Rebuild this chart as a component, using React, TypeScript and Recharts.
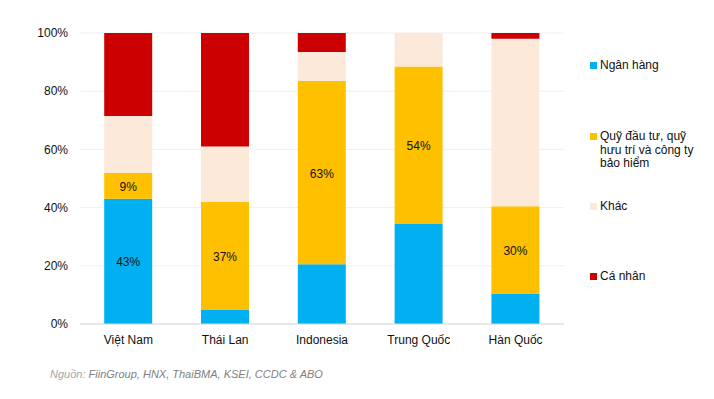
import React from "react";
import {
  BarChart,
  Bar,
  XAxis,
  YAxis,
  CartesianGrid,
} from "recharts";

const categories = ["Việt Nam", "Thái Lan", "Indonesia", "Trung Quốc", "Hàn Quốc"];
const nganHang = [43, 5, 20.5, 34.5, 10.5];
const quyDauTu = [9, 37, 63, 54, 30];
const khac = [19.5, 19, 10, 11.5, 57.5];
const caNhan = [28.5, 39, 6.5, 0, 2];
const nganHangLabels = ["43%", "", "", "", ""];
const quyDauTuLabels = ["9%", "37%", "63%", "54%", "30%"];
const yTicks = [0, 20, 40, 60, 80, 100];

const seriesNames = {
  nganHang: "Ngân hàng",
  quyDauTu: "Quỹ đầu tư, quỹ hưu trí và công ty bảo hiểm",
  khac: "Khác",
  caNhan: "Cá nhân",
};

const colors = {
  nganHang: "#00B0F0",
  quyDauTu: "#FFC000",
  khac: "#FDE9D9",
  caNhan: "#CC0000",
};

const legendItems = [
  { key: "nganHang", lines: ["Ngân hàng"], top: 59 },
  { key: "quyDauTu", lines: ["Quỹ đầu tư, quỹ", "hưu trí và công ty", "bảo hiểm"], top: 130 },
  { key: "khac", lines: ["Khác"], top: 200 },
  { key: "caNhan", lines: ["Cá nhân"], top: 270 },
];

const data = categories.map((c, i) => ({
  cat: c,
  nganHang: nganHang[i],
  quyDauTu: quyDauTu[i],
  khac: khac[i],
  caNhan: caNhan[i],
}));

const FONT = "Liberation Sans, Arial, sans-serif";

const makeLabel = (labels: string[]) => (props: any) => {
  const { x, y, width, height, index } = props;
  const t = labels[index];
  if (!t) return null;
  return (
    <text
      x={Number(x) + Number(width) / 2}
      y={Number(y) + Number(height) / 2 + 1}
      textAnchor="middle"
      dominantBaseline="central"
      fill="#111"
      fontSize={12}
      fontFamily={FONT}
    >
      {t}
    </text>
  );
};

const LegendBlock = () => (
  <div style={{ position: "absolute", left: 590, top: 0, width: 124, height: 399, fontFamily: FONT }}>
    {legendItems.map((it) => (
      <div key={it.key} style={{ position: "absolute", left: 0, top: it.top }}>
        <div
          style={{
            position: "absolute",
            left: 0,
            top: 3,
            width: 7,
            height: 7,
            background: (colors as any)[it.key],
          }}
        />
        <div
          style={{
            position: "absolute",
            left: 10,
            top: 0,
            whiteSpace: "nowrap",
            fontSize: 12,
            lineHeight: "13.5px",
            color: "#111",
          }}
        >
          {it.lines.map((l, j) => (
            <div key={j}>{l}</div>
          ))}
        </div>
      </div>
    ))}
  </div>
);

export default function App() {
  return (
    <div style={{ position: "absolute", left: 0, top: 0, width: 714, height: 399, background: "#fff" }}>
      <BarChart
        width={714}
        height={399}
        data={data}
        margin={{ top: 33, right: 150, bottom: 0, left: 0 }}
        barCategoryGap="25%"
      >
        <CartesianGrid vertical={false} stroke="#EFEFEF" />
        <XAxis
          dataKey="cat"
          height={75}
          tickLine={false}
          axisLine={{ stroke: "#D9D9D9" }}
          tickMargin={5}
          tick={{ fontSize: 12, fill: "#111", fontFamily: FONT }}
          interval={0}
        />
        <YAxis
          type="number"
          width={80}
          domain={[0, 100]}
          ticks={yTicks}
          tickFormatter={(v: number) => `${v}%`}
          tickLine={false}
          axisLine={false}
          tickMargin={6}
          tick={{ fontSize: 12, fill: "#111", fontFamily: FONT }}
        />
        <Bar dataKey="nganHang" name={seriesNames.nganHang} stackId="s" fill={colors.nganHang} isAnimationActive={false} label={makeLabel(nganHangLabels)} />
        <Bar dataKey="quyDauTu" name={seriesNames.quyDauTu} stackId="s" fill={colors.quyDauTu} isAnimationActive={false} label={makeLabel(quyDauTuLabels)} />
        <Bar dataKey="khac" name={seriesNames.khac} stackId="s" fill={colors.khac} isAnimationActive={false} />
        <Bar dataKey="caNhan" name={seriesNames.caNhan} stackId="s" fill={colors.caNhan} isAnimationActive={false} />
      </BarChart>
      <LegendBlock />
      <div
        style={{
          position: "absolute",
          left: 50,
          top: 368,
          fontFamily: FONT,
          fontSize: 11,
          fontStyle: "italic",
          color: "#808080",
          whiteSpace: "nowrap",
        }}
      >
        <span style={{ color: "#A6A6A6" }}>Nguồn:</span> FiinGroup, HNX, ThaiBMA, KSEI, CCDC &amp; ABO
      </div>
    </div>
  );
}
